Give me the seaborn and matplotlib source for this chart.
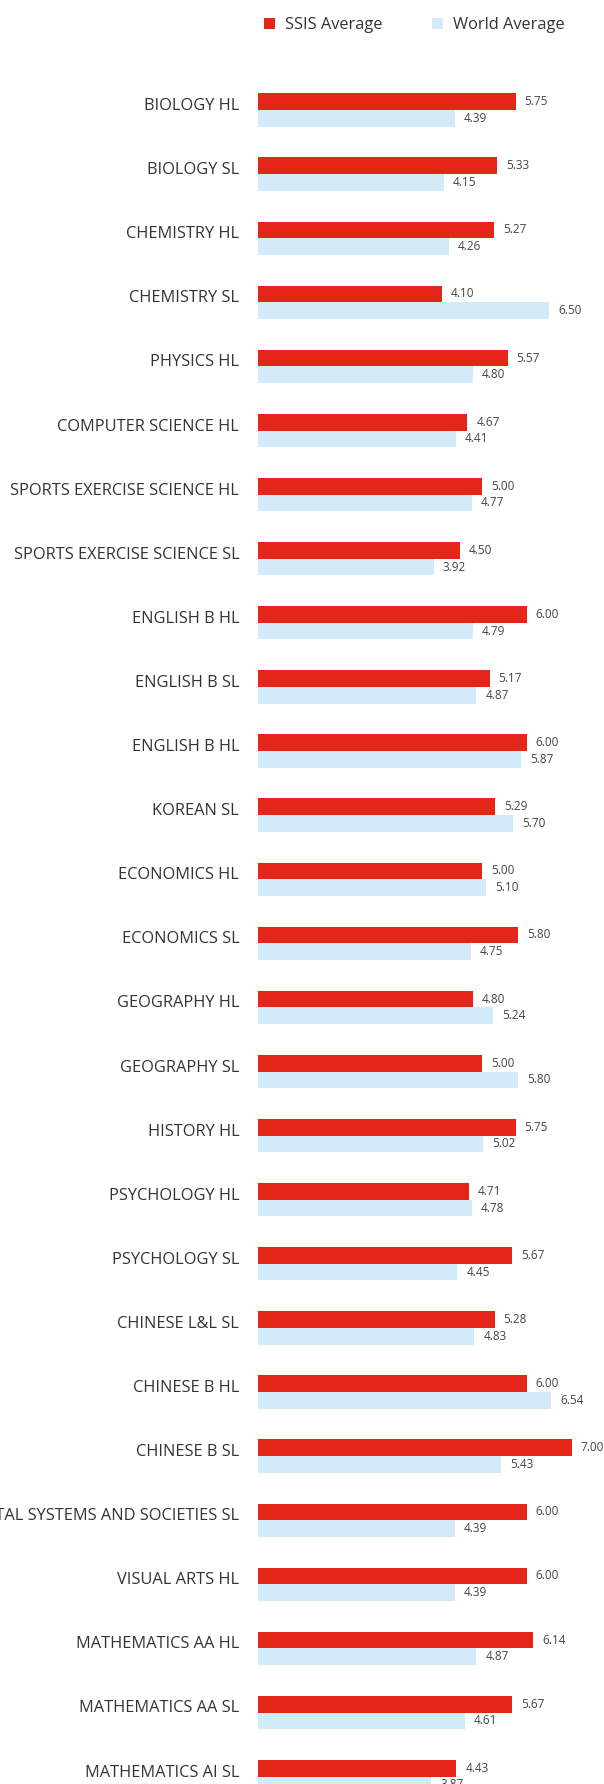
import matplotlib
matplotlib.use('Agg')
import matplotlib.pyplot as plt
import matplotlib.transforms as mtransforms
from matplotlib.patches import Patch
import seaborn as sns
import pandas as pd

sns.set_style('white')

subjects = ['BIOLOGY HL', 'BIOLOGY SL', 'CHEMISTRY HL', 'CHEMISTRY SL', 'PHYSICS HL',
            'COMPUTER SCIENCE HL', 'SPORTS EXERCISE SCIENCE HL', 'SPORTS EXERCISE SCIENCE SL',
            'ENGLISH B HL', 'ENGLISH B SL', 'ENGLISH B HL', 'KOREAN SL', 'ECONOMICS HL',
            'ECONOMICS SL', 'GEOGRAPHY HL', 'GEOGRAPHY SL', 'HISTORY HL', 'PSYCHOLOGY HL',
            'PSYCHOLOGY SL', 'CHINESE L&L SL', 'CHINESE B HL', 'CHINESE B SL',
            'ENVIRONMENTAL SYSTEMS AND SOCIETIES SL', 'VISUAL ARTS HL', 'MATHEMATICS AA HL',
            'MATHEMATICS AA SL', 'MATHEMATICS AI SL']
ssis_avg = [5.75, 5.33, 5.27, 4.10, 5.57, 4.67, 5.00, 4.50, 6.00, 5.17, 6.00, 5.29, 5.00,
            5.80, 4.80, 5.00, 5.75, 4.71, 5.67, 5.28, 6.00, 7.00, 6.00, 6.00, 6.14, 5.67, 4.43]
world_avg = [4.39, 4.15, 4.26, 6.50, 4.80, 4.41, 4.77, 3.92, 4.79, 4.87, 5.87, 5.70, 5.10,
             4.75, 5.24, 5.80, 5.02, 4.78, 4.45, 4.83, 6.54, 5.43, 4.39, 4.39, 4.87, 4.61, 3.87]
series = ['SSIS Average', 'World Average']
colors = ['#E42517', '#D3EAF8']

# English B HL shows up twice, so the rows are keyed by position
n = len(subjects)
row_keys = [f'r{i:02d}' for i in range(n)]
df = pd.DataFrame({
    'row': row_keys * 2,
    'score': ssis_avg + world_avg,
    'series': [series[0]] * n + [series[1]] * n,
})

W, H = 604, 1784
fig = plt.figure(figsize=(W / 100, H / 100), dpi=100)
row = 64.1
top_px = 110 - 0.5 * row
bot_px = 110 + 26.5 * row
left_px, right_px = 258, 594
ax = fig.add_axes([left_px / W, (H - bot_px) / H, (right_px - left_px) / W, (bot_px - top_px) / H])

sns.barplot(data=df, y='row', x='score', hue='series', palette=colors, orient='h',
            order=row_keys, width=0.52, linewidth=0, saturation=1, legend=False, ax=ax)

for cont in ax.containers:
    ax.bar_label(cont, fmt='%.2f', padding=6.5, fontsize=8.5, color='#444444', family='Open Sans')

ax.set_xlim(0, 7.5)
ax.set_ylim(26.5, -0.5)
ax.set_xlabel('')
ax.set_ylabel('')
ax.set_xticks([])
ax.set_yticks(range(n), subjects)
ax.tick_params(axis='y', length=0, pad=13.5)
# labels sit a little above the middle of each pair of bars
shift = mtransforms.ScaledTranslation(0, 6 / 100, fig.dpi_scale_trans)
for lab in ax.get_yticklabels():
    lab.set_family('Open Sans')
    lab.set_fontsize(11.8)
    lab.set_color('#333333')
    lab.set_transform(lab.get_transform() + shift)
sns.despine(ax=ax, left=True, bottom=True)

handles = [Patch(facecolor=c, edgecolor='none') for c in colors]
fig.legend(handles, series, loc='center', bbox_to_anchor=(414 / W, 1 - 25 / H), ncol=2,
           frameon=False, handlelength=0.7, handleheight=0.7, handletextpad=0.6,
           columnspacing=3.0, prop={'family': 'Open Sans', 'size': 11.8},
           labelcolor='#333333')

fig.savefig('out.png', dpi=100)
